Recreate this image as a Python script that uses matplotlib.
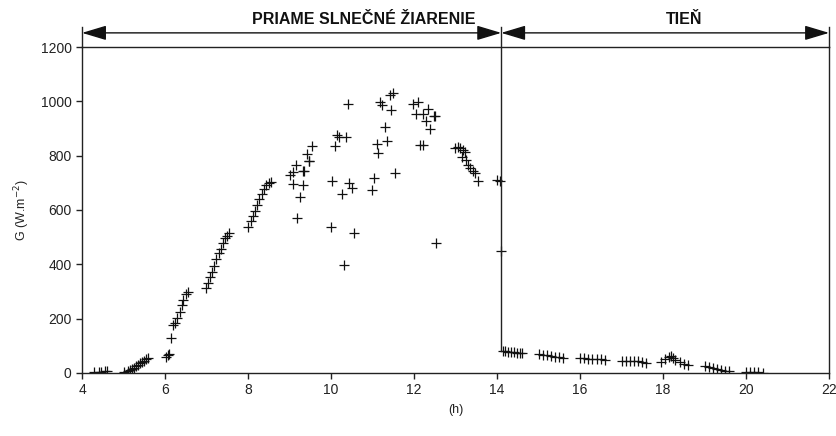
import matplotlib
matplotlib.use('Agg')
import matplotlib.pyplot as plt
import numpy as np

plt.rcParams['font.family'] = ['Liberation Sans', 'DejaVu Sans']

# hours of the day and irradiance G (W.m-2)
hours = [4.3, 4.4, 4.45, 4.55, 4.6,
         5.0, 5.1, 5.15, 5.2, 5.25, 5.3, 5.35, 5.4, 5.45, 5.5, 5.55, 5.6,
         6.02, 6.06, 6.1, 6.14, 6.2, 6.24, 6.28, 6.35, 6.4, 6.44, 6.51, 6.56,
         6.99, 7.04, 7.09, 7.14, 7.19, 7.24, 7.29, 7.34, 7.39, 7.44, 7.5, 7.55,
         8.01, 8.06, 8.11, 8.16, 8.21, 8.27, 8.33, 8.38, 8.44, 8.5, 8.55,
         9.01, 9.08, 9.09, 9.16, 9.19, 9.25, 9.32, 9.33, 9.35, 9.41, 9.46, 9.48, 9.53,
         10.0, 10.03, 10.1, 10.14, 10.18, 10.26, 10.31, 10.36, 10.42, 10.43, 10.5, 10.55,
         10.98, 11.04, 11.1, 11.14, 11.18, 11.24, 11.3, 11.36, 11.42, 11.45, 11.5, 11.54,
         11.98, 12.05, 12.1, 12.14, 12.22, 12.22, 12.29, 12.34, 12.39, 12.47, 12.5, 12.53,
         12.99, 13.07, 13.1, 13.15, 13.17, 13.23, 13.25, 13.31, 13.36, 13.41, 13.47, 13.55,
         13.99, 14.06, 14.1,
         14.15, 14.2, 14.27, 14.33, 14.4, 14.47, 14.55, 14.6,
         15.0, 15.1, 15.2, 15.3, 15.4, 15.5, 15.6,
         16.0, 16.1, 16.2, 16.3, 16.4, 16.5, 16.6,
         17.0, 17.1, 17.2, 17.3, 17.4, 17.5, 17.6,
         17.95, 18.05, 18.15, 18.2, 18.25, 18.3, 18.4, 18.5, 18.6,
         19.0, 19.1, 19.2, 19.3, 19.4, 19.5, 19.6,
         20.0, 20.1, 20.2, 20.3, 20.4]
G = [2, 5, 3, 6, 8,
     5, 8, 12, 16, 20, 25, 30, 35, 40, 46, 50, 54,
     60, 66, 70, 130, 177, 185, 201, 226, 250, 269, 289, 299,
     312, 330, 352, 372, 395, 418, 440, 458, 478, 497, 505, 516,
     538, 558, 578, 598, 618, 640, 660, 678, 692, 700, 704,
     729, 696, 741, 767, 569, 649, 692, 743, 743, 806, 780, 780, 835,
     538, 707, 835, 876, 867, 658, 398, 867, 989, 698, 680, 514,
     673, 719, 842, 811, 999, 987, 907, 854, 1023, 968, 1032, 738,
     989, 955, 999, 841, 955, 841, 929, 970, 898, 946, 946, 477,
     827, 833, 827, 796, 821, 815, 784, 766, 753, 744, 735, 707,
     712, 707, 450,
     82, 80, 78, 77, 76, 75, 73, 72,
     70, 68, 65, 62, 60, 58, 57,
     55, 54, 53, 52, 51, 50, 49,
     45, 44, 46, 43, 44, 40, 38,
     42, 50, 60, 62, 55, 48, 40, 33, 28,
     25, 22, 20, 16, 12, 9, 6,
     5, 4, 3, 2, 1]

x_ticks = [4, 6, 8, 10, 12, 14, 16, 18, 20, 22]
y_ticks = [0, 200, 400, 600, 800, 1000, 1200]
split_hour = 14.1
labels = ['PRIAME SLNEČNÉ ŽIARENIE', 'TIEŇ']

fig = plt.figure(figsize=(8.37, 4.36), dpi=100)
ax = fig.add_axes([0.098, 0.1445, 0.8925, 0.7477])

ax.plot(hours, G, '+', color='#111111', markersize=7, markeredgewidth=0.9)

ax.set_xlim(4, 22)
ax.set_ylim(0, 1200)
ax.set_xticks(x_ticks)
ax.set_yticks(y_ticks)
ax.tick_params(direction='out', length=4, width=1, labelsize=10, colors='#222222')
for s in ax.spines.values():
    s.set_linewidth(1.0)
    s.set_color('#222222')

ax.set_xlabel('(h)', fontsize=9, color='#222222', labelpad=5)
ax.set_ylabel('G (W.m$^{-2}$)', fontsize=9, color='#222222', labelpad=6)

# divider and arrows above the plot
arrow_y = 1252
top_y = 1272
ax.plot([4, 4], [1200, top_y], color='#222222', lw=1, clip_on=False)
ax.plot([22, 22], [1200, top_y], color='#222222', lw=1, clip_on=False)
ax.plot([split_hour, split_hour], [80, top_y], color='#222222', lw=1, clip_on=False)
props = dict(arrowstyle='<|-|>,head_length=1.5,head_width=0.45', color='#111111',
             lw=1, shrinkA=0, shrinkB=0)
ax.annotate('', xy=(4, arrow_y), xytext=(split_hour, arrow_y),
            arrowprops=props, annotation_clip=False)
ax.annotate('', xy=(split_hour, arrow_y), xytext=(22, arrow_y),
            arrowprops=props, annotation_clip=False)
ax.text(10.8, 1302, labels[0], ha='center', va='center', fontsize=11.5,
        fontweight='bold', color='#111111', clip_on=False)
ax.text(18.5, 1302, labels[1], ha='center', va='center', fontsize=11.5,
        fontweight='bold', color='#111111', clip_on=False)

fig.savefig('out.png', dpi=100)
